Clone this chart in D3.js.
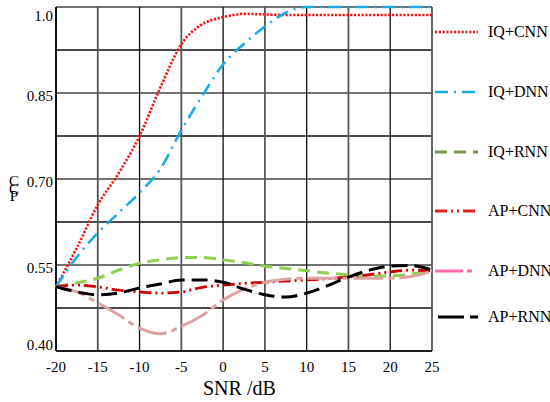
<!DOCTYPE html>
<html>
<head>
<meta charset="utf-8">
<script src="https://cdn.jsdelivr.net/npm/d3@7"></script>
<style>
  body { margin: 0; background: #fff; }
</style>
</head>
<body>
<div id="chart"></div>
<script>
// SNR steps (dB) and the six curves
var snr = [-20, -17.5, -15, -12.5, -10, -7.5, -5, -2.5, 0, 2.5, 5, 7.5, 10, 12.5, 15, 17.5, 20, 22.5, 25];
var iqCnn = [0.512, 0.58, 0.655, 0.71, 0.775, 0.86, 0.935, 0.97, 0.982, 0.988, 0.987, 0.986, 0.986, 0.986, 0.986, 0.986, 0.986, 0.986, 0.986];
var iqDnn = [0.512, 0.564, 0.606, 0.641, 0.676, 0.718, 0.785, 0.845, 0.90, 0.936, 0.966, 0.99, 1.0, 1.0, 1.0, 1.0, 1.0, 1.0, 1.0];
var iqRnn = [0.512, 0.519, 0.527, 0.541, 0.553, 0.559, 0.563, 0.563, 0.559, 0.554, 0.548, 0.544, 0.540, 0.536, 0.533, 0.531, 0.531, 0.534, 0.541];
var apCnn = [0.512, 0.515, 0.512, 0.506, 0.503, 0.501, 0.503, 0.511, 0.515, 0.518, 0.520, 0.522, 0.524, 0.526, 0.529, 0.533, 0.538, 0.541, 0.540];
var apDnn = [0.512, 0.503, 0.484, 0.463, 0.440, 0.430, 0.443, 0.462, 0.489, 0.508, 0.520, 0.525, 0.527, 0.527, 0.527, 0.527, 0.527, 0.530, 0.540];
var apRnn = [0.512, 0.503, 0.498, 0.501, 0.510, 0.517, 0.524, 0.524, 0.520, 0.508, 0.498, 0.494, 0.501, 0.514, 0.529, 0.541, 0.548, 0.549, 0.541];

var names = ["IQ+CNN", "IQ+DNN", "IQ+RNN", "AP+CNN", "AP+DNN", "AP+RNN"];
var xTicks = [-20, -15, -10, -5, 0, 5, 10, 15, 20, 25];
var yTicks = [0.40, 0.55, 0.70, 0.85, 1.0];

var series = [
  {name: names[0], values: iqCnn, color: "#ff1010", legendColor: "#ff1010", dash: "2.2,1.6", width: 2.6},
  {name: names[1], values: iqDnn, color: "#1aaee8", legendColor: "#1aaee8", dash: "13,6,2,6", width: 2.6},
  {name: names[2], values: iqRnn, color: "#8fd04f", legendColor: "#7b9a4c", dash: "12,7", width: 3},
  {name: names[3], values: apCnn, color: "#cc0000", legendColor: "#dd2222", dash: "12,4,2,4,2,4", width: 2.8},
  {name: names[4], values: apDnn, color: "#dca3a0", legendColor: "#ff6aaa", dash: "30,5,6,5", width: 3},
  {name: names[5], values: apRnn, color: "#000000", legendColor: "#000000", dash: "16,7", width: 3}
];

var serif = "'Liberation Serif', 'Times New Roman', 'DejaVu Serif', serif";

var margin = {top: 7, right: 118, bottom: 51, left: 56},
    width = 550 - margin.left - margin.right,
    height = 402 - margin.top - margin.bottom;

var svg = d3.select("#chart")
  .append("svg")
    .attr("width", 550)
    .attr("height", 402)
    .attr("font-family", serif)
  .append("g")
    .attr("transform", "translate(" + margin.left + "," + margin.top + ")");

var x = d3.scaleLinear().domain([-20, 25]).range([0, width]);
var y = d3.scaleLinear().domain([0.40, 1.0]).range([height, 0]);

// grid
var gx = d3.range(-20, 25.01, 5);
var gy = d3.range(0, 9).map(function(i) { return 0.40 + i * 0.075; });

svg.append("g").selectAll("line")
  .data(gy)
  .enter().append("line")
    .attr("x1", 0).attr("x2", width)
    .attr("y1", function(d) { return y(d); })
    .attr("y2", function(d) { return y(d); })
    .attr("stroke", function(d, i) { return i % 2 ? "#111" : "#444"; })
    .attr("stroke-width", 1.3);

svg.append("g").selectAll("line")
  .data(gx)
  .enter().append("line")
    .attr("y1", 0).attr("y2", height)
    .attr("x1", function(d) { return x(d); })
    .attr("x2", function(d) { return x(d); })
    .attr("stroke", function(d, i) { return i % 2 ? "#555" : "#111"; })
    .attr("stroke-width", function(d, i) { return i % 2 ? 1.8 : 1.3; });

// axis lines
svg.append("line").attr("x1", 0).attr("x2", 0).attr("y1", 0).attr("y2", height)
  .attr("stroke", "#000").attr("stroke-width", 1.6);
svg.append("line").attr("x1", 0).attr("x2", width).attr("y1", height).attr("y2", height)
  .attr("stroke", "#000").attr("stroke-width", 1.4);

// tick labels
svg.append("g").selectAll("text")
  .data(xTicks)
  .enter().append("text")
    .attr("x", function(d) { return x(d); })
    .attr("y", height + 21)
    .attr("text-anchor", "middle")
    .style("font-size", "15px")
    .text(function(d) { return d; });

svg.append("g").selectAll("text")
  .data(yTicks)
  .enter().append("text")
    .attr("x", -3)
    .attr("y", function(d) { return Math.max(14, Math.min(height - 1, y(d) + 8)); })
    .attr("text-anchor", "end")
    .style("font-size", "15px")
    .text(function(d) { return d === 1 ? "1.0" : d.toFixed(2); });

// axis titles
svg.append("text")
  .attr("x", 147).attr("y", height + 44)
  .style("font-size", "20px")
  .text("SNR /dB");

var yl = svg.append("text")
  .attr("transform", "translate(-42,179)")
  .attr("text-anchor", "middle")
  .style("font-size", "15px");
yl.append("tspan").attr("x", 0).attr("dy", 0).text("C");
yl.append("tspan").attr("x", 0).attr("dy", 8).text("C");
yl.append("tspan").attr("x", 0).attr("dy", 7).text("P");

// curves
var line = d3.line()
  .x(function(d) { return x(d[0]); })
  .y(function(d) { return y(d[1]); })
  .curve(d3.curveMonotoneX);

series.forEach(function(s) {
  svg.append("path")
    .datum(snr.map(function(v, i) { return [v, s.values[i]]; }))
    .attr("fill", "none")
    .attr("stroke", s.color)
    .attr("stroke-width", s.width)
    .attr("stroke-dasharray", s.dash)
    .attr("d", line);
});

// legend
var legendY = [25, 85, 145, 204, 264, 310];
var legend = svg.append("g").attr("transform", "translate(" + (width + 3) + ",0)");
series.forEach(function(s, i) {
  var g = legend.append("g").attr("transform", "translate(0," + legendY[i] + ")");
  g.append("line")
    .attr("x1", i === 5 ? 3 : 0).attr("x2", 43)
    .attr("stroke", s.legendColor)
    .attr("stroke-width", s.width)
    .attr("stroke-dasharray", i === 4 ? "28,4,5" : (i === 5 ? "26,6,8" : s.dash));
  g.append("text")
    .attr("x", 53).attr("y", 5)
    .style("font-size", "16px")
    .text(s.name);
});
</script>
</body>
</html>
